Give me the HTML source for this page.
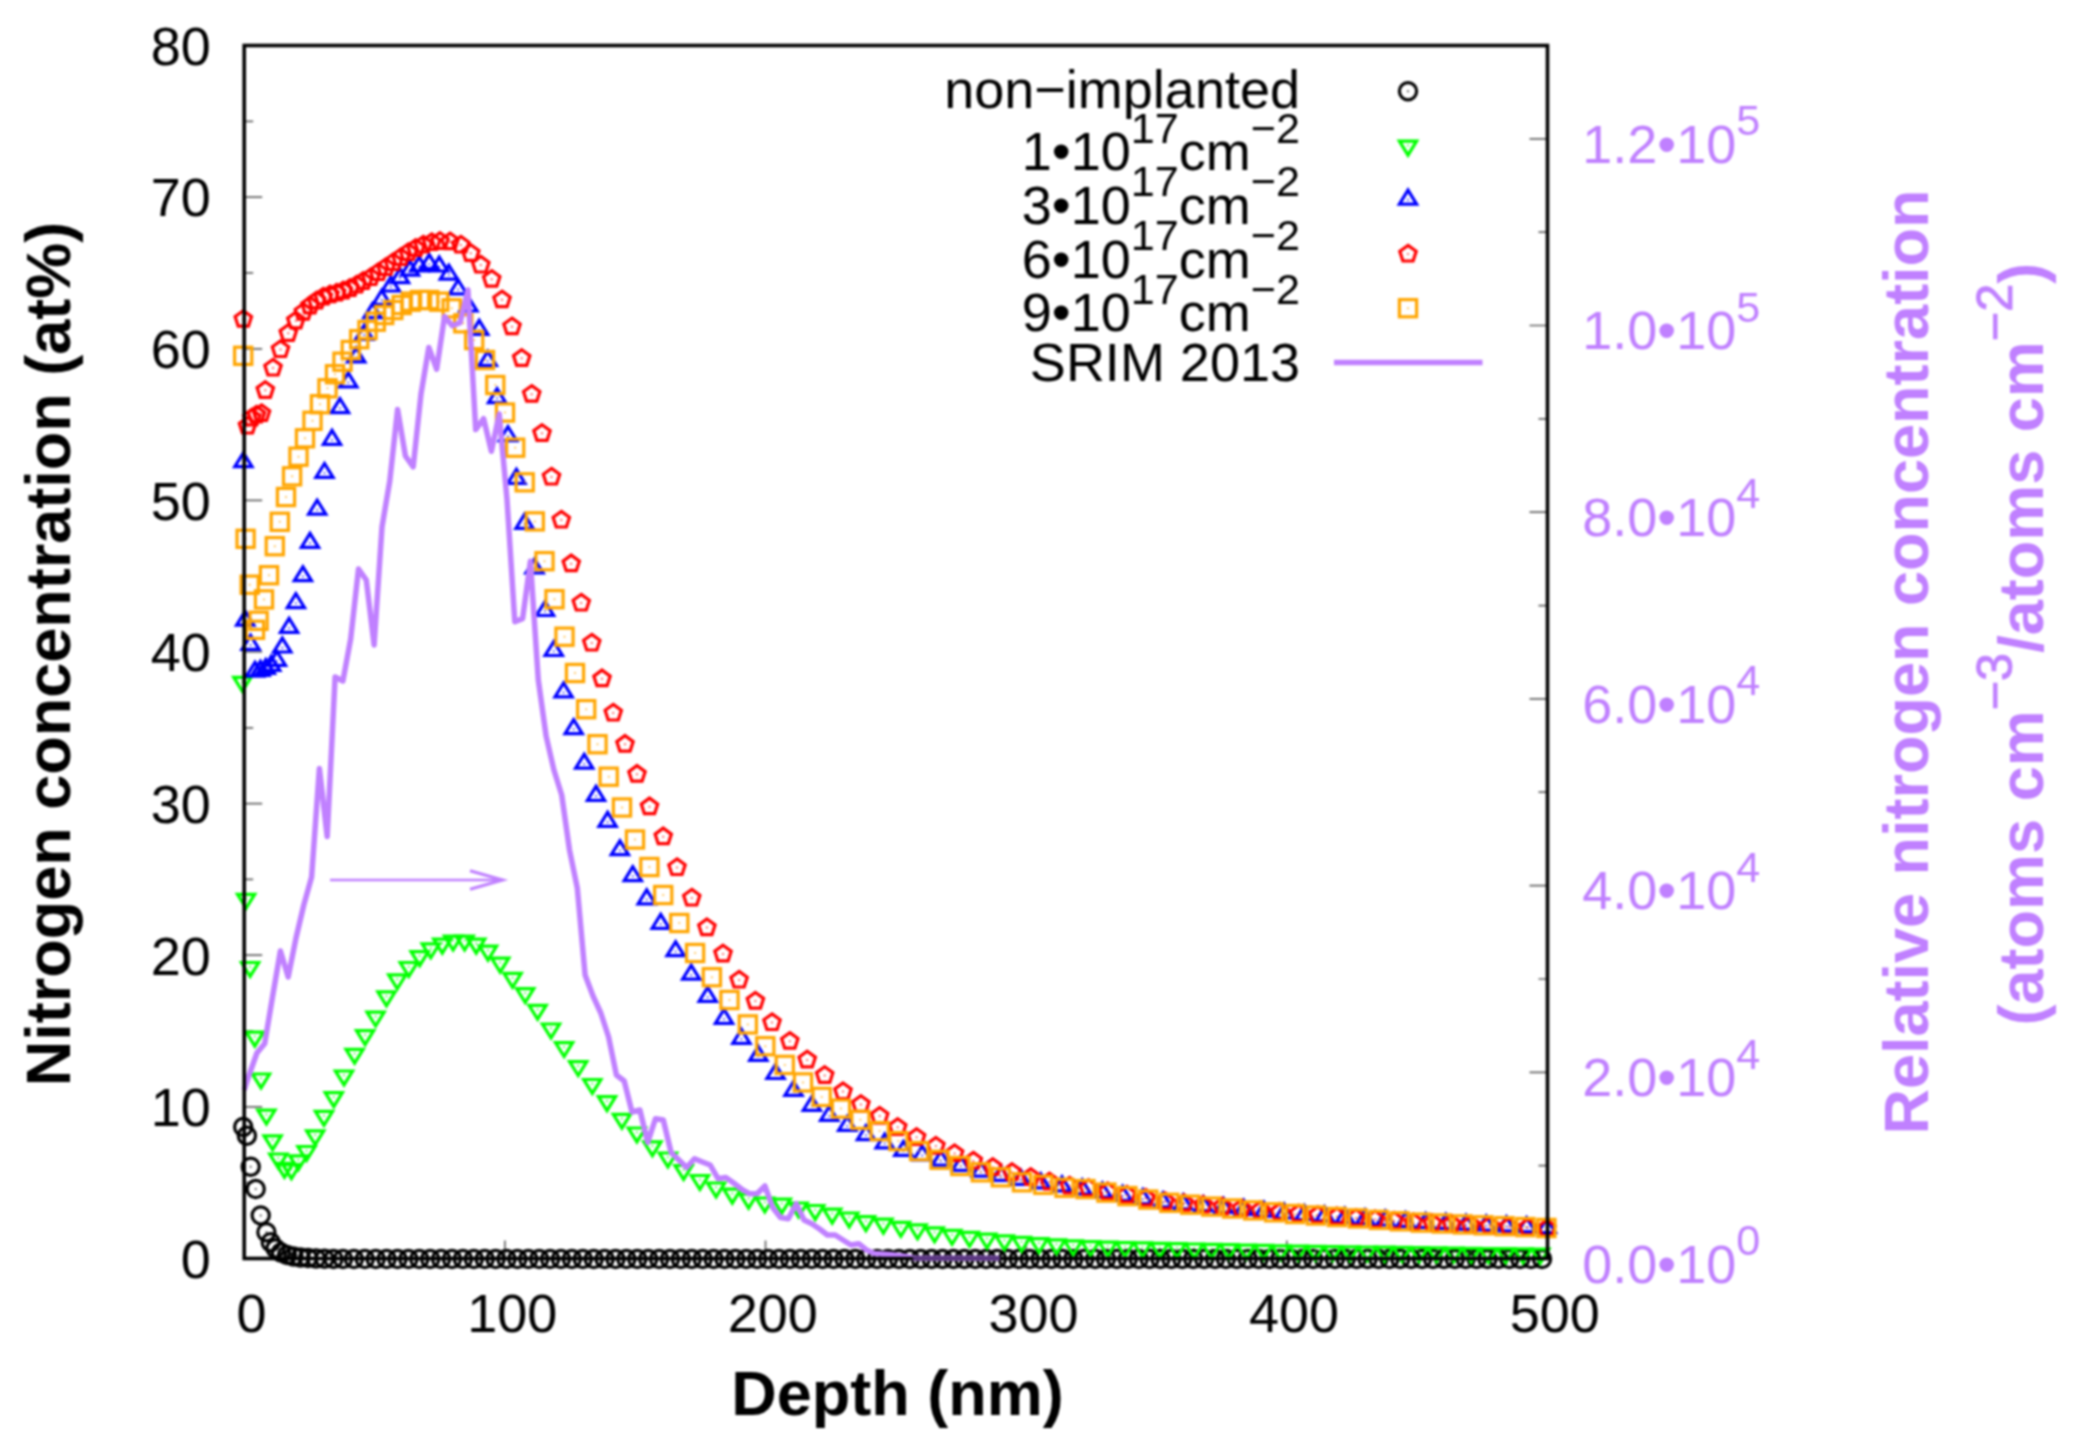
<!DOCTYPE html>
<html lang="en"><head><meta charset="utf-8"><title>Nitrogen concentration depth profile</title>
<style>html,body{margin:0;padding:0;background:#fff}svg{display:block;filter:blur(0.9px)}</style></head>
<body>
<svg width="2082" height="1452" viewBox="0 0 2082 1452" font-family="'Liberation Sans', sans-serif">
<rect width="2082" height="1452" fill="#fff"/>
<path d="M244.2 1258.5h18M244.2 1182.7h9M244.2 1106.9h18M244.2 1031.1h9M244.2 955.2h18M244.2 879.4h9M244.2 803.6h18M244.2 727.8h9M244.2 652h18M244.2 576.2h9M244.2 500.4h18M244.2 424.6h9M244.2 348.8h18M244.2 272.9h9M244.2 197.1h18M244.2 121.3h9M244.2 45.5h18M244.2 1258.5v-18M504.9 1258.5v-18M765.5 1258.5v-18M1026.2 1258.5v-18M1286.8 1258.5v-18M1547.5 1258.5v-18M1547.5 1259h-18M1547.5 1165.7h-9M1547.5 1072.3h-18M1547.5 979h-9M1547.5 885.6h-18M1547.5 792.2h-9M1547.5 698.9h-18M1547.5 605.6h-9M1547.5 512.2h-18M1547.5 418.9h-9M1547.5 325.5h-18M1547.5 232.2h-9M1547.5 138.8h-18M1547.5 45.5h-9" stroke="#666" stroke-width="1.7" fill="none"/>
<g fill="none" stroke="#000" stroke-width="3.2" stroke-linejoin="miter">
<circle cx="243.2" cy="1127" r="8.6"/>
<circle cx="246.9" cy="1135.8" r="8.6"/>
<circle cx="250.7" cy="1166.7" r="8.6"/>
<circle cx="255.7" cy="1189" r="8.6"/>
<circle cx="260.7" cy="1215.4" r="8.6"/>
<circle cx="266.4" cy="1232.3" r="8.6"/>
<circle cx="270.7" cy="1242.3" r="8.6"/>
<circle cx="275.5" cy="1248.5" r="8.6"/>
<circle cx="281" cy="1252.5" r="8.6"/>
<circle cx="287" cy="1255" r="8.6"/>
<circle cx="293.5" cy="1256.5" r="8.6"/>
<circle cx="300.5" cy="1257.5" r="8.6"/>
<circle cx="308" cy="1258" r="8.6"/>
<circle cx="316" cy="1258.5" r="8.6"/>
<circle cx="324.5" cy="1258.8" r="8.6"/>
<circle cx="333.5" cy="1259" r="8.6"/>
<circle cx="343" cy="1259" r="8.6"/>
<circle cx="353.9" cy="1259" r="8.6"/>
<circle cx="364.8" cy="1259" r="8.6"/>
<circle cx="375.7" cy="1259" r="8.6"/>
<circle cx="386.6" cy="1259" r="8.6"/>
<circle cx="397.5" cy="1259" r="8.6"/>
<circle cx="408.4" cy="1259" r="8.6"/>
<circle cx="419.3" cy="1259" r="8.6"/>
<circle cx="430.2" cy="1259" r="8.6"/>
<circle cx="441.1" cy="1259" r="8.6"/>
<circle cx="452" cy="1259" r="8.6"/>
<circle cx="462.9" cy="1259" r="8.6"/>
<circle cx="473.8" cy="1259" r="8.6"/>
<circle cx="484.7" cy="1259" r="8.6"/>
<circle cx="495.6" cy="1259" r="8.6"/>
<circle cx="506.5" cy="1259" r="8.6"/>
<circle cx="517.4" cy="1259" r="8.6"/>
<circle cx="528.3" cy="1259" r="8.6"/>
<circle cx="539.2" cy="1259" r="8.6"/>
<circle cx="550.1" cy="1259" r="8.6"/>
<circle cx="561" cy="1259" r="8.6"/>
<circle cx="571.9" cy="1259" r="8.6"/>
<circle cx="582.8" cy="1259" r="8.6"/>
<circle cx="593.7" cy="1259" r="8.6"/>
<circle cx="604.6" cy="1259" r="8.6"/>
<circle cx="615.5" cy="1259" r="8.6"/>
<circle cx="626.4" cy="1259" r="8.6"/>
<circle cx="637.3" cy="1259" r="8.6"/>
<circle cx="648.2" cy="1259" r="8.6"/>
<circle cx="659.1" cy="1259" r="8.6"/>
<circle cx="670" cy="1259" r="8.6"/>
<circle cx="680.9" cy="1259" r="8.6"/>
<circle cx="691.8" cy="1259" r="8.6"/>
<circle cx="702.7" cy="1259" r="8.6"/>
<circle cx="713.6" cy="1259" r="8.6"/>
<circle cx="724.5" cy="1259" r="8.6"/>
<circle cx="735.4" cy="1259" r="8.6"/>
<circle cx="746.3" cy="1259" r="8.6"/>
<circle cx="757.2" cy="1259" r="8.6"/>
<circle cx="768.1" cy="1259" r="8.6"/>
<circle cx="779" cy="1259" r="8.6"/>
<circle cx="789.9" cy="1259" r="8.6"/>
<circle cx="800.8" cy="1259" r="8.6"/>
<circle cx="811.7" cy="1259" r="8.6"/>
<circle cx="822.6" cy="1259" r="8.6"/>
<circle cx="833.5" cy="1259" r="8.6"/>
<circle cx="844.4" cy="1259" r="8.6"/>
<circle cx="855.3" cy="1259" r="8.6"/>
<circle cx="866.2" cy="1259" r="8.6"/>
<circle cx="877.1" cy="1259" r="8.6"/>
<circle cx="888" cy="1259" r="8.6"/>
<circle cx="898.9" cy="1259" r="8.6"/>
<circle cx="909.8" cy="1259" r="8.6"/>
<circle cx="920.7" cy="1259" r="8.6"/>
<circle cx="931.6" cy="1259" r="8.6"/>
<circle cx="942.5" cy="1259" r="8.6"/>
<circle cx="953.4" cy="1259" r="8.6"/>
<circle cx="964.3" cy="1259" r="8.6"/>
<circle cx="975.2" cy="1259" r="8.6"/>
<circle cx="986.1" cy="1259" r="8.6"/>
<circle cx="997" cy="1259" r="8.6"/>
<circle cx="1007.9" cy="1259" r="8.6"/>
<circle cx="1018.8" cy="1259" r="8.6"/>
<circle cx="1029.7" cy="1259" r="8.6"/>
<circle cx="1040.6" cy="1259" r="8.6"/>
<circle cx="1051.5" cy="1259" r="8.6"/>
<circle cx="1062.4" cy="1259" r="8.6"/>
<circle cx="1073.3" cy="1259" r="8.6"/>
<circle cx="1084.2" cy="1259" r="8.6"/>
<circle cx="1095.1" cy="1259" r="8.6"/>
<circle cx="1106" cy="1259" r="8.6"/>
<circle cx="1116.9" cy="1259" r="8.6"/>
<circle cx="1127.8" cy="1259" r="8.6"/>
<circle cx="1138.7" cy="1259" r="8.6"/>
<circle cx="1149.6" cy="1259" r="8.6"/>
<circle cx="1160.5" cy="1259" r="8.6"/>
<circle cx="1171.4" cy="1259" r="8.6"/>
<circle cx="1182.3" cy="1259" r="8.6"/>
<circle cx="1193.2" cy="1259" r="8.6"/>
<circle cx="1204.1" cy="1259" r="8.6"/>
<circle cx="1215" cy="1259" r="8.6"/>
<circle cx="1225.9" cy="1259" r="8.6"/>
<circle cx="1236.8" cy="1259" r="8.6"/>
<circle cx="1247.7" cy="1259" r="8.6"/>
<circle cx="1258.6" cy="1259" r="8.6"/>
<circle cx="1269.5" cy="1259" r="8.6"/>
<circle cx="1280.4" cy="1259" r="8.6"/>
<circle cx="1291.3" cy="1259" r="8.6"/>
<circle cx="1302.2" cy="1259" r="8.6"/>
<circle cx="1313.1" cy="1259" r="8.6"/>
<circle cx="1324" cy="1259" r="8.6"/>
<circle cx="1334.9" cy="1259" r="8.6"/>
<circle cx="1345.8" cy="1259" r="8.6"/>
<circle cx="1356.7" cy="1259" r="8.6"/>
<circle cx="1367.6" cy="1259" r="8.6"/>
<circle cx="1378.5" cy="1259" r="8.6"/>
<circle cx="1389.4" cy="1259" r="8.6"/>
<circle cx="1400.3" cy="1259" r="8.6"/>
<circle cx="1411.2" cy="1259" r="8.6"/>
<circle cx="1422.1" cy="1259" r="8.6"/>
<circle cx="1433" cy="1259" r="8.6"/>
<circle cx="1443.9" cy="1259" r="8.6"/>
<circle cx="1454.8" cy="1259" r="8.6"/>
<circle cx="1465.7" cy="1259" r="8.6"/>
<circle cx="1476.6" cy="1259" r="8.6"/>
<circle cx="1487.5" cy="1259" r="8.6"/>
<circle cx="1498.4" cy="1259" r="8.6"/>
<circle cx="1509.3" cy="1259" r="8.6"/>
<circle cx="1520.2" cy="1259" r="8.6"/>
<circle cx="1531.1" cy="1259" r="8.6"/>
<circle cx="1542" cy="1259" r="8.6"/>
</g>
<g fill="#000" opacity="0.75"><circle cx="243.2" cy="1127" r="1"/><circle cx="246.9" cy="1135.8" r="1"/><circle cx="250.7" cy="1166.7" r="1"/><circle cx="255.7" cy="1189" r="1"/><circle cx="260.7" cy="1215.4" r="1"/><circle cx="266.4" cy="1232.3" r="1"/><circle cx="270.7" cy="1242.3" r="1"/><circle cx="275.5" cy="1248.5" r="1"/><circle cx="281" cy="1252.5" r="1"/><circle cx="287" cy="1255" r="1"/><circle cx="293.5" cy="1256.5" r="1"/><circle cx="300.5" cy="1257.5" r="1"/><circle cx="308" cy="1258" r="1"/><circle cx="316" cy="1258.5" r="1"/><circle cx="324.5" cy="1258.8" r="1"/><circle cx="333.5" cy="1259" r="1"/><circle cx="343" cy="1259" r="1"/><circle cx="353.9" cy="1259" r="1"/><circle cx="364.8" cy="1259" r="1"/><circle cx="375.7" cy="1259" r="1"/><circle cx="386.6" cy="1259" r="1"/><circle cx="397.5" cy="1259" r="1"/><circle cx="408.4" cy="1259" r="1"/><circle cx="419.3" cy="1259" r="1"/><circle cx="430.2" cy="1259" r="1"/><circle cx="441.1" cy="1259" r="1"/><circle cx="452" cy="1259" r="1"/><circle cx="462.9" cy="1259" r="1"/><circle cx="473.8" cy="1259" r="1"/><circle cx="484.7" cy="1259" r="1"/><circle cx="495.6" cy="1259" r="1"/><circle cx="506.5" cy="1259" r="1"/><circle cx="517.4" cy="1259" r="1"/><circle cx="528.3" cy="1259" r="1"/><circle cx="539.2" cy="1259" r="1"/><circle cx="550.1" cy="1259" r="1"/><circle cx="561" cy="1259" r="1"/><circle cx="571.9" cy="1259" r="1"/><circle cx="582.8" cy="1259" r="1"/><circle cx="593.7" cy="1259" r="1"/><circle cx="604.6" cy="1259" r="1"/><circle cx="615.5" cy="1259" r="1"/><circle cx="626.4" cy="1259" r="1"/><circle cx="637.3" cy="1259" r="1"/><circle cx="648.2" cy="1259" r="1"/><circle cx="659.1" cy="1259" r="1"/><circle cx="670" cy="1259" r="1"/><circle cx="680.9" cy="1259" r="1"/><circle cx="691.8" cy="1259" r="1"/><circle cx="702.7" cy="1259" r="1"/><circle cx="713.6" cy="1259" r="1"/><circle cx="724.5" cy="1259" r="1"/><circle cx="735.4" cy="1259" r="1"/><circle cx="746.3" cy="1259" r="1"/><circle cx="757.2" cy="1259" r="1"/><circle cx="768.1" cy="1259" r="1"/><circle cx="779" cy="1259" r="1"/><circle cx="789.9" cy="1259" r="1"/><circle cx="800.8" cy="1259" r="1"/><circle cx="811.7" cy="1259" r="1"/><circle cx="822.6" cy="1259" r="1"/><circle cx="833.5" cy="1259" r="1"/><circle cx="844.4" cy="1259" r="1"/><circle cx="855.3" cy="1259" r="1"/><circle cx="866.2" cy="1259" r="1"/><circle cx="877.1" cy="1259" r="1"/><circle cx="888" cy="1259" r="1"/><circle cx="898.9" cy="1259" r="1"/><circle cx="909.8" cy="1259" r="1"/><circle cx="920.7" cy="1259" r="1"/><circle cx="931.6" cy="1259" r="1"/><circle cx="942.5" cy="1259" r="1"/><circle cx="953.4" cy="1259" r="1"/><circle cx="964.3" cy="1259" r="1"/><circle cx="975.2" cy="1259" r="1"/><circle cx="986.1" cy="1259" r="1"/><circle cx="997" cy="1259" r="1"/><circle cx="1007.9" cy="1259" r="1"/><circle cx="1018.8" cy="1259" r="1"/><circle cx="1029.7" cy="1259" r="1"/><circle cx="1040.6" cy="1259" r="1"/><circle cx="1051.5" cy="1259" r="1"/><circle cx="1062.4" cy="1259" r="1"/><circle cx="1073.3" cy="1259" r="1"/><circle cx="1084.2" cy="1259" r="1"/><circle cx="1095.1" cy="1259" r="1"/><circle cx="1106" cy="1259" r="1"/><circle cx="1116.9" cy="1259" r="1"/><circle cx="1127.8" cy="1259" r="1"/><circle cx="1138.7" cy="1259" r="1"/><circle cx="1149.6" cy="1259" r="1"/><circle cx="1160.5" cy="1259" r="1"/><circle cx="1171.4" cy="1259" r="1"/><circle cx="1182.3" cy="1259" r="1"/><circle cx="1193.2" cy="1259" r="1"/><circle cx="1204.1" cy="1259" r="1"/><circle cx="1215" cy="1259" r="1"/><circle cx="1225.9" cy="1259" r="1"/><circle cx="1236.8" cy="1259" r="1"/><circle cx="1247.7" cy="1259" r="1"/><circle cx="1258.6" cy="1259" r="1"/><circle cx="1269.5" cy="1259" r="1"/><circle cx="1280.4" cy="1259" r="1"/><circle cx="1291.3" cy="1259" r="1"/><circle cx="1302.2" cy="1259" r="1"/><circle cx="1313.1" cy="1259" r="1"/><circle cx="1324" cy="1259" r="1"/><circle cx="1334.9" cy="1259" r="1"/><circle cx="1345.8" cy="1259" r="1"/><circle cx="1356.7" cy="1259" r="1"/><circle cx="1367.6" cy="1259" r="1"/><circle cx="1378.5" cy="1259" r="1"/><circle cx="1389.4" cy="1259" r="1"/><circle cx="1400.3" cy="1259" r="1"/><circle cx="1411.2" cy="1259" r="1"/><circle cx="1422.1" cy="1259" r="1"/><circle cx="1433" cy="1259" r="1"/><circle cx="1443.9" cy="1259" r="1"/><circle cx="1454.8" cy="1259" r="1"/><circle cx="1465.7" cy="1259" r="1"/><circle cx="1476.6" cy="1259" r="1"/><circle cx="1487.5" cy="1259" r="1"/><circle cx="1498.4" cy="1259" r="1"/><circle cx="1509.3" cy="1259" r="1"/><circle cx="1520.2" cy="1259" r="1"/><circle cx="1531.1" cy="1259" r="1"/><circle cx="1542" cy="1259" r="1"/></g>
<g fill="none" stroke="#00ff00" stroke-width="3.2" stroke-linejoin="miter">
<path d="M242.4 691.3L233.8 677.4H251Z"/>
<path d="M246.1 908.2L237.5 894.3H254.7Z"/>
<path d="M250.1 976.4L241.5 962.5H258.7Z"/>
<path d="M254.8 1046.1L246.2 1032.2H263.4Z"/>
<path d="M261 1087.9L252.4 1074H269.6Z"/>
<path d="M266.4 1124L257.8 1110.1H275Z"/>
<path d="M272.6 1149.7L264 1135.8H281.2Z"/>
<path d="M278.3 1167.9L269.7 1154H286.9Z"/>
<path d="M284.5 1177.3L275.9 1163.4H293.1Z"/>
<path d="M291.4 1178.6L282.8 1164.7H300Z"/>
<path d="M298.3 1169.8L289.7 1155.9H306.9Z"/>
<path d="M306.5 1160.4L297.9 1146.5H315.1Z"/>
<path d="M315.2 1144.7L306.6 1130.8H323.8Z"/>
<path d="M324 1125.3L315.4 1111.4H332.6Z"/>
<path d="M333.8 1106.6L325.2 1092.7H342.4Z"/>
<path d="M344 1084.9L335.4 1071H352.6Z"/>
<path d="M354.6 1063.2L346 1049.3H363.2Z"/>
<path d="M365.1 1044.6L356.5 1030.7H373.7Z"/>
<path d="M375.6 1026L367 1012.1H384.2Z"/>
<path d="M386.5 1005.8L377.9 991.9H395.1Z"/>
<path d="M397.3 988.8L388.7 974.9H405.9Z"/>
<path d="M408.8 976.4L400.2 962.5H417.4Z"/>
<path d="M419.7 965.6L411.1 951.7H428.3Z"/>
<path d="M430.8 957.8L422.2 943.9H439.4Z"/>
<path d="M442.3 953.1L433.7 939.2H450.9Z"/>
<path d="M453.1 950L444.5 936.1H461.7Z"/>
<path d="M464.6 950L456 936.1H473.2Z"/>
<path d="M476.2 953.1L467.6 939.2H484.8Z"/>
<path d="M488 960.1L479.4 946.2H496.6Z"/>
<path d="M500.2 972.1L491.6 958.2H508.8Z"/>
<path d="M512.6 987.3L504 973.4H521.2Z"/>
<path d="M525.2 1002.5L516.6 988.6H533.8Z"/>
<path d="M537.6 1019.2L529 1005.3H546.2Z"/>
<path d="M551 1037.9L542.4 1024H559.6Z"/>
<path d="M564.1 1056.5L555.5 1042.6H572.7Z"/>
<path d="M578.2 1075.5L569.6 1061.6H586.8Z"/>
<path d="M592.3 1093.4L583.7 1079.5H600.9Z"/>
<path d="M607 1110.6L598.4 1096.7H615.6Z"/>
<path d="M621.9 1128.2L613.3 1114.3H630.5Z"/>
<path d="M636.9 1141.9L628.3 1128H645.5Z"/>
<path d="M652.4 1155.7L643.8 1141.8H661Z"/>
<path d="M667.9 1166.9L659.3 1153H676.5Z"/>
<path d="M683.6 1179.4L675 1165.5H692.2Z"/>
<path d="M699.9 1189.4L691.3 1175.5H708.5Z"/>
<path d="M716.1 1196.9L707.5 1183H724.7Z"/>
<path d="M732.3 1203.1L723.7 1189.2H740.9Z"/>
<path d="M748.6 1208.1L740 1194.2H757.2Z"/>
<path d="M764.8 1211.9L756.2 1198H773.4Z"/>
<path d="M781.8 1213.1L773.2 1199.2H790.4Z"/>
<path d="M798.5 1216.9L789.9 1203H807.1Z"/>
<path d="M815.2 1219.4L806.6 1205.5H823.8Z"/>
<path d="M832.2 1223.1L823.6 1209.2H840.8Z"/>
<path d="M849.2 1226.9L840.6 1213H857.8Z"/>
<path d="M865.9 1230.6L857.3 1216.7H874.5Z"/>
<path d="M883.4 1233.1L874.8 1219.2H892Z"/>
<path d="M900.9 1236.3L892.3 1222.4H909.5Z"/>
<path d="M917.6 1238.8L909 1224.9H926.2Z"/>
<path d="M934.6 1241.8L926 1227.9H943.2Z"/>
<path d="M952.1 1244.3L943.5 1230.4H960.7Z"/>
<path d="M969.6 1246.3L961 1232.4H978.2Z"/>
<path d="M987 1248.1L978.4 1234.2H995.6Z"/>
<path d="M1004.5 1249.8L995.9 1235.9H1013.1Z"/>
<path d="M1021.5 1251.3L1012.9 1237.4H1030.1Z"/>
<path d="M1039 1252.6L1030.4 1238.7H1047.6Z"/>
<path d="M1056.5 1253.8L1047.9 1239.9H1065.1Z"/>
<path d="M1073.2 1254.8L1064.6 1240.9H1081.8Z"/>
<path d="M1090.5 1255.5L1081.9 1241.6H1099.1Z"/>
<path d="M1107.8 1256.1L1099.2 1242.2H1116.4Z"/>
<path d="M1125.1 1256.5L1116.5 1242.6H1133.7Z"/>
<path d="M1142.4 1256.9L1133.8 1242.9H1151Z"/>
<path d="M1159.7 1257.2L1151.1 1243.3H1168.3Z"/>
<path d="M1177 1257.6L1168.4 1243.7H1185.6Z"/>
<path d="M1194.3 1257.9L1185.7 1244H1202.9Z"/>
<path d="M1211.6 1258.3L1203 1244.4H1220.2Z"/>
<path d="M1228.9 1258.7L1220.3 1244.7H1237.5Z"/>
<path d="M1246.2 1259L1237.6 1245.1H1254.8Z"/>
<path d="M1263.5 1259.4L1254.9 1245.4H1272.1Z"/>
<path d="M1280.8 1259.7L1272.2 1245.8H1289.4Z"/>
<path d="M1298.1 1260.1L1289.5 1246.2H1306.7Z"/>
<path d="M1315.4 1260.3L1306.8 1246.4H1324Z"/>
<path d="M1332.7 1260.5L1324.1 1246.6H1341.3Z"/>
<path d="M1350 1260.7L1341.4 1246.8H1358.6Z"/>
<path d="M1367.3 1260.9L1358.7 1247H1375.9Z"/>
<path d="M1384.6 1261.2L1376 1247.2H1393.2Z"/>
<path d="M1401.9 1261.4L1393.3 1247.4H1410.5Z"/>
<path d="M1419.2 1261.6L1410.6 1247.6H1427.8Z"/>
<path d="M1436.5 1261.8L1427.9 1247.9H1445.1Z"/>
<path d="M1453.8 1262L1445.2 1248.1H1462.4Z"/>
<path d="M1471.1 1262.2L1462.5 1248.3H1479.7Z"/>
<path d="M1488.4 1262.4L1479.8 1248.5H1497Z"/>
<path d="M1505.7 1262.6L1497.1 1248.7H1514.3Z"/>
<path d="M1523 1262.8L1514.4 1248.9H1531.6Z"/>
<path d="M1540.3 1263.1L1531.7 1249.1H1548.9Z"/>
</g>
<g fill="#00ff00" opacity="0.75"><circle cx="242.4" cy="681.7" r="1"/><circle cx="246.1" cy="898.6" r="1"/><circle cx="250.1" cy="966.8" r="1"/><circle cx="254.8" cy="1036.5" r="1"/><circle cx="261" cy="1078.3" r="1"/><circle cx="266.4" cy="1114.4" r="1"/><circle cx="272.6" cy="1140.1" r="1"/><circle cx="278.3" cy="1158.3" r="1"/><circle cx="284.5" cy="1167.7" r="1"/><circle cx="291.4" cy="1169" r="1"/><circle cx="298.3" cy="1160.2" r="1"/><circle cx="306.5" cy="1150.8" r="1"/><circle cx="315.2" cy="1135.1" r="1"/><circle cx="324" cy="1115.7" r="1"/><circle cx="333.8" cy="1097" r="1"/><circle cx="344" cy="1075.3" r="1"/><circle cx="354.6" cy="1053.6" r="1"/><circle cx="365.1" cy="1035" r="1"/><circle cx="375.6" cy="1016.4" r="1"/><circle cx="386.5" cy="996.2" r="1"/><circle cx="397.3" cy="979.2" r="1"/><circle cx="408.8" cy="966.8" r="1"/><circle cx="419.7" cy="956" r="1"/><circle cx="430.8" cy="948.2" r="1"/><circle cx="442.3" cy="943.5" r="1"/><circle cx="453.1" cy="940.4" r="1"/><circle cx="464.6" cy="940.4" r="1"/><circle cx="476.2" cy="943.5" r="1"/><circle cx="488" cy="950.5" r="1"/><circle cx="500.2" cy="962.5" r="1"/><circle cx="512.6" cy="977.7" r="1"/><circle cx="525.2" cy="992.9" r="1"/><circle cx="537.6" cy="1009.6" r="1"/><circle cx="551" cy="1028.3" r="1"/><circle cx="564.1" cy="1046.9" r="1"/><circle cx="578.2" cy="1065.9" r="1"/><circle cx="592.3" cy="1083.8" r="1"/><circle cx="607" cy="1101" r="1"/><circle cx="621.9" cy="1118.6" r="1"/><circle cx="636.9" cy="1132.3" r="1"/><circle cx="652.4" cy="1146.1" r="1"/><circle cx="667.9" cy="1157.3" r="1"/><circle cx="683.6" cy="1169.8" r="1"/><circle cx="699.9" cy="1179.8" r="1"/><circle cx="716.1" cy="1187.3" r="1"/><circle cx="732.3" cy="1193.5" r="1"/><circle cx="748.6" cy="1198.5" r="1"/><circle cx="764.8" cy="1202.3" r="1"/><circle cx="781.8" cy="1203.5" r="1"/><circle cx="798.5" cy="1207.3" r="1"/><circle cx="815.2" cy="1209.8" r="1"/><circle cx="832.2" cy="1213.5" r="1"/><circle cx="849.2" cy="1217.3" r="1"/><circle cx="865.9" cy="1221" r="1"/><circle cx="883.4" cy="1223.5" r="1"/><circle cx="900.9" cy="1226.7" r="1"/><circle cx="917.6" cy="1229.2" r="1"/><circle cx="934.6" cy="1232.2" r="1"/><circle cx="952.1" cy="1234.7" r="1"/><circle cx="969.6" cy="1236.7" r="1"/><circle cx="987" cy="1238.5" r="1"/><circle cx="1004.5" cy="1240.2" r="1"/><circle cx="1021.5" cy="1241.7" r="1"/><circle cx="1039" cy="1243" r="1"/><circle cx="1056.5" cy="1244.2" r="1"/><circle cx="1073.2" cy="1245.2" r="1"/><circle cx="1090.5" cy="1245.9" r="1"/><circle cx="1107.8" cy="1246.5" r="1"/><circle cx="1125.1" cy="1246.9" r="1"/><circle cx="1142.4" cy="1247.2" r="1"/><circle cx="1159.7" cy="1247.6" r="1"/><circle cx="1177" cy="1248" r="1"/><circle cx="1194.3" cy="1248.3" r="1"/><circle cx="1211.6" cy="1248.7" r="1"/><circle cx="1228.9" cy="1249" r="1"/><circle cx="1246.2" cy="1249.4" r="1"/><circle cx="1263.5" cy="1249.7" r="1"/><circle cx="1280.8" cy="1250.1" r="1"/><circle cx="1298.1" cy="1250.5" r="1"/><circle cx="1315.4" cy="1250.7" r="1"/><circle cx="1332.7" cy="1250.9" r="1"/><circle cx="1350" cy="1251.1" r="1"/><circle cx="1367.3" cy="1251.3" r="1"/><circle cx="1384.6" cy="1251.5" r="1"/><circle cx="1401.9" cy="1251.7" r="1"/><circle cx="1419.2" cy="1251.9" r="1"/><circle cx="1436.5" cy="1252.2" r="1"/><circle cx="1453.8" cy="1252.4" r="1"/><circle cx="1471.1" cy="1252.6" r="1"/><circle cx="1488.4" cy="1252.8" r="1"/><circle cx="1505.7" cy="1253" r="1"/><circle cx="1523" cy="1253.2" r="1"/><circle cx="1540.3" cy="1253.4" r="1"/></g>
<g fill="none" stroke="#0000ff" stroke-width="3.2" stroke-linejoin="miter">
<path d="M243.4 452.8L234.8 466.7H252Z"/>
<path d="M245.2 611.2L236.6 625.1H253.8Z"/>
<path d="M250.6 635.4L242 649.3H259.2Z"/>
<path d="M255 662.3L246.4 676.2H263.6Z"/>
<path d="M260.4 661.4L251.8 675.3H269Z"/>
<path d="M265.8 659.6L257.2 673.5H274.4Z"/>
<path d="M271.2 656.4L262.6 670.3H279.8Z"/>
<path d="M276.9 651.5L268.3 665.4H285.5Z"/>
<path d="M282.3 638.1L273.7 652H290.9Z"/>
<path d="M289.1 618.4L280.5 632.3H297.7Z"/>
<path d="M295.9 593.7L287.3 607.6H304.5Z"/>
<path d="M302.9 566.8L294.3 580.7H311.5Z"/>
<path d="M310 533.4L301.4 547.3H318.6Z"/>
<path d="M317.2 500.2L308.6 514.1H325.8Z"/>
<path d="M324.5 463.5L315.9 477.4H333.1Z"/>
<path d="M332 430.4L323.4 444.3H340.6Z"/>
<path d="M340 398.7L331.4 412.6H348.6Z"/>
<path d="M348.3 372.9L339.7 386.8H356.9Z"/>
<path d="M356.2 347.9L347.6 361.8H364.8Z"/>
<path d="M364.2 325.4L355.6 339.3H372.8Z"/>
<path d="M372.5 303.7L363.9 317.6H381.1Z"/>
<path d="M381.7 290.4L373.1 304.3H390.3Z"/>
<path d="M390.8 277.1L382.2 291H399.4Z"/>
<path d="M400 268.7L391.4 282.6H408.6Z"/>
<path d="M410 261.2L401.4 275.1H418.6Z"/>
<path d="M419.2 257.1L410.6 271H427.8Z"/>
<path d="M429.2 254.6L420.6 268.5H437.8Z"/>
<path d="M439.2 257.1L430.6 271H447.8Z"/>
<path d="M448.9 265.2L440.3 279.1H457.5Z"/>
<path d="M458.1 280L449.5 293.9H466.7Z"/>
<path d="M468.4 297.1L459.8 311H477Z"/>
<path d="M479.2 320.4L470.6 334.3H487.8Z"/>
<path d="M487.7 351.4L479.1 365.3H496.3Z"/>
<path d="M497.1 388.7L488.5 402.6H505.7Z"/>
<path d="M508 426.7L499.4 440.6H516.6Z"/>
<path d="M516.4 469.4L507.8 483.3H525Z"/>
<path d="M524.5 514.4L515.9 528.3H533.1Z"/>
<path d="M534.5 559.1L525.9 573H543.1Z"/>
<path d="M545 601.6L536.4 615.5H553.6Z"/>
<path d="M553.8 641.6L545.1 655.5H562.4Z"/>
<path d="M563.6 683L555 696.9H572.2Z"/>
<path d="M573.7 719.7L565.1 733.6H582.3Z"/>
<path d="M584.2 754.3L575.6 768.2H592.8Z"/>
<path d="M596 786.4L587.4 800.3H604.6Z"/>
<path d="M607.6 812.4L599 826.3H616.2Z"/>
<path d="M619.9 840.8L611.3 854.7H628.5Z"/>
<path d="M632.8 866.7L624.2 880.6H641.4Z"/>
<path d="M646.7 889.9L638.1 903.8H655.3Z"/>
<path d="M660.7 914.4L652.1 928.3H669.3Z"/>
<path d="M675.6 941.8L667 955.7H684.2Z"/>
<path d="M691.2 965.3L682.6 979.2H699.8Z"/>
<path d="M707.7 987.4L699.1 1001.3H716.3Z"/>
<path d="M724 1009.4L715.4 1023.3H732.6Z"/>
<path d="M741.4 1029.4L732.8 1043.3H750Z"/>
<path d="M758.3 1046.4L749.7 1060.3H766.9Z"/>
<path d="M775.5 1064.6L766.9 1078.5H784.1Z"/>
<path d="M793.5 1081.5L784.9 1095.4H802.1Z"/>
<path d="M811.8 1096.5L803.2 1110.4H820.4Z"/>
<path d="M829.2 1106.5L820.6 1120.4H837.8Z"/>
<path d="M847.2 1116.5L838.6 1130.4H855.8Z"/>
<path d="M866 1125.7L857.4 1139.6H874.6Z"/>
<path d="M884.7 1134L876.1 1147.9H893.3Z"/>
<path d="M903.4 1141.5L894.8 1155.4H912Z"/>
<path d="M922.2 1146L913.6 1159.9H930.8Z"/>
<path d="M940.9 1151.2L932.3 1165.1H949.5Z"/>
<path d="M960.9 1156.4L952.3 1170.3H969.5Z"/>
<path d="M980.8 1162.2L972.2 1176.1H989.4Z"/>
<path d="M1000.8 1166.4L992.2 1180.3H1009.4Z"/>
<path d="M1020.8 1170.4L1012.2 1184.3H1029.4Z"/>
<path d="M1040.8 1173.9L1032.2 1187.8H1049.4Z"/>
<path d="M1062 1176.9L1053.4 1190.8H1070.6Z"/>
<path d="M1082.2 1179.9L1073.6 1193.8H1090.8Z"/>
<path d="M1102.4 1183.1L1093.8 1197H1111Z"/>
<path d="M1122.6 1186.3L1114 1200.3H1131.2Z"/>
<path d="M1142.8 1189.6L1134.2 1203.5H1151.4Z"/>
<path d="M1163 1192.8L1154.4 1206.8H1171.6Z"/>
<path d="M1183.2 1194.8L1174.6 1208.8H1191.8Z"/>
<path d="M1203.4 1196.7L1194.8 1210.6H1212Z"/>
<path d="M1223.6 1198.5L1215 1212.4H1232.2Z"/>
<path d="M1243.8 1200.4L1235.2 1214.3H1252.4Z"/>
<path d="M1264 1202.2L1255.4 1216.1H1272.6Z"/>
<path d="M1284.2 1204L1275.6 1218H1292.8Z"/>
<path d="M1304.4 1205.6L1295.8 1219.5H1313Z"/>
<path d="M1324.6 1206.9L1316 1220.9H1333.2Z"/>
<path d="M1344.8 1208.3L1336.2 1222.3H1353.4Z"/>
<path d="M1365 1209.7L1356.4 1223.7H1373.6Z"/>
<path d="M1385.2 1211.1L1376.6 1225H1393.8Z"/>
<path d="M1405.4 1212.5L1396.8 1226.4H1414Z"/>
<path d="M1425.6 1213.6L1417 1227.5H1434.2Z"/>
<path d="M1445.8 1214.4L1437.2 1228.4H1454.4Z"/>
<path d="M1466 1215.3L1457.4 1229.2H1474.6Z"/>
<path d="M1486.2 1216.1L1477.6 1230H1494.8Z"/>
<path d="M1506.4 1216.9L1497.8 1230.8H1515Z"/>
<path d="M1526.6 1217.7L1518 1231.7H1535.2Z"/>
<path d="M1546.8 1218.6L1538.2 1232.5H1555.4Z"/>
</g>
<g fill="#0000ff" opacity="0.75"><circle cx="243.4" cy="462.4" r="1"/><circle cx="245.2" cy="620.8" r="1"/><circle cx="250.6" cy="645" r="1"/><circle cx="255" cy="671.9" r="1"/><circle cx="260.4" cy="671" r="1"/><circle cx="265.8" cy="669.2" r="1"/><circle cx="271.2" cy="666" r="1"/><circle cx="276.9" cy="661.1" r="1"/><circle cx="282.3" cy="647.7" r="1"/><circle cx="289.1" cy="628" r="1"/><circle cx="295.9" cy="603.3" r="1"/><circle cx="302.9" cy="576.4" r="1"/><circle cx="310" cy="543" r="1"/><circle cx="317.2" cy="509.8" r="1"/><circle cx="324.5" cy="473.1" r="1"/><circle cx="332" cy="440" r="1"/><circle cx="340" cy="408.3" r="1"/><circle cx="348.3" cy="382.5" r="1"/><circle cx="356.2" cy="357.5" r="1"/><circle cx="364.2" cy="335" r="1"/><circle cx="372.5" cy="313.3" r="1"/><circle cx="381.7" cy="300" r="1"/><circle cx="390.8" cy="286.7" r="1"/><circle cx="400" cy="278.3" r="1"/><circle cx="410" cy="270.8" r="1"/><circle cx="419.2" cy="266.7" r="1"/><circle cx="429.2" cy="264.2" r="1"/><circle cx="439.2" cy="266.7" r="1"/><circle cx="448.9" cy="274.8" r="1"/><circle cx="458.1" cy="289.6" r="1"/><circle cx="468.4" cy="306.7" r="1"/><circle cx="479.2" cy="330" r="1"/><circle cx="487.7" cy="361" r="1"/><circle cx="497.1" cy="398.3" r="1"/><circle cx="508" cy="436.3" r="1"/><circle cx="516.4" cy="479" r="1"/><circle cx="524.5" cy="524" r="1"/><circle cx="534.5" cy="568.8" r="1"/><circle cx="545" cy="611.2" r="1"/><circle cx="553.8" cy="651.2" r="1"/><circle cx="563.6" cy="692.6" r="1"/><circle cx="573.7" cy="729.3" r="1"/><circle cx="584.2" cy="763.9" r="1"/><circle cx="596" cy="796" r="1"/><circle cx="607.6" cy="822" r="1"/><circle cx="619.9" cy="850.4" r="1"/><circle cx="632.8" cy="876.3" r="1"/><circle cx="646.7" cy="899.5" r="1"/><circle cx="660.7" cy="924" r="1"/><circle cx="675.6" cy="951.4" r="1"/><circle cx="691.2" cy="974.9" r="1"/><circle cx="707.7" cy="997" r="1"/><circle cx="724" cy="1019" r="1"/><circle cx="741.4" cy="1039" r="1"/><circle cx="758.3" cy="1056" r="1"/><circle cx="775.5" cy="1074.2" r="1"/><circle cx="793.5" cy="1091.1" r="1"/><circle cx="811.8" cy="1106.1" r="1"/><circle cx="829.2" cy="1116.1" r="1"/><circle cx="847.2" cy="1126.1" r="1"/><circle cx="866" cy="1135.3" r="1"/><circle cx="884.7" cy="1143.6" r="1"/><circle cx="903.4" cy="1151.1" r="1"/><circle cx="922.2" cy="1155.6" r="1"/><circle cx="940.9" cy="1160.8" r="1"/><circle cx="960.9" cy="1166" r="1"/><circle cx="980.8" cy="1171.8" r="1"/><circle cx="1000.8" cy="1176" r="1"/><circle cx="1020.8" cy="1180" r="1"/><circle cx="1040.8" cy="1183.5" r="1"/><circle cx="1062" cy="1186.5" r="1"/><circle cx="1082.2" cy="1189.5" r="1"/><circle cx="1102.4" cy="1192.7" r="1"/><circle cx="1122.6" cy="1196" r="1"/><circle cx="1142.8" cy="1199.2" r="1"/><circle cx="1163" cy="1202.5" r="1"/><circle cx="1183.2" cy="1204.5" r="1"/><circle cx="1203.4" cy="1206.3" r="1"/><circle cx="1223.6" cy="1208.1" r="1"/><circle cx="1243.8" cy="1210" r="1"/><circle cx="1264" cy="1211.8" r="1"/><circle cx="1284.2" cy="1213.7" r="1"/><circle cx="1304.4" cy="1215.2" r="1"/><circle cx="1324.6" cy="1216.6" r="1"/><circle cx="1344.8" cy="1218" r="1"/><circle cx="1365" cy="1219.4" r="1"/><circle cx="1385.2" cy="1220.7" r="1"/><circle cx="1405.4" cy="1222.1" r="1"/><circle cx="1425.6" cy="1223.2" r="1"/><circle cx="1445.8" cy="1224.1" r="1"/><circle cx="1466" cy="1224.9" r="1"/><circle cx="1486.2" cy="1225.7" r="1"/><circle cx="1506.4" cy="1226.5" r="1"/><circle cx="1526.6" cy="1227.4" r="1"/><circle cx="1546.8" cy="1228.2" r="1"/></g>
<g fill="none" stroke="#ff0000" stroke-width="3.2" stroke-linejoin="miter">
<path d="M243.3 310.6L251.5 316.5L248.4 326.2L238.2 326.2L235.1 316.5Z"/>
<path d="M247.5 417.4L255.7 423.3L252.6 433L242.4 433L239.3 423.3Z"/>
<path d="M251.7 409.4L259.9 415.3L256.8 425L246.6 425L243.5 415.3Z"/>
<path d="M256.5 406.4L264.7 412.3L261.6 422L251.4 422L248.3 412.3Z"/>
<path d="M261.5 404.9L269.7 410.8L266.6 420.5L256.4 420.5L253.3 410.8Z"/>
<path d="M265.3 381.7L273.5 387.6L270.4 397.3L260.2 397.3L257.1 387.6Z"/>
<path d="M273 359.4L281.2 365.3L278.1 375L267.9 375L264.8 365.3Z"/>
<path d="M280.5 340.9L288.7 346.8L285.6 356.5L275.4 356.5L272.3 346.8Z"/>
<path d="M288.3 324.7L296.5 330.6L293.4 340.3L283.2 340.3L280.1 330.6Z"/>
<path d="M295.8 312.2L304 318.1L300.9 327.8L290.7 327.8L287.6 318.1Z"/>
<path d="M303.3 303.6L311.5 309.5L308.4 319.2L298.2 319.2L295.1 309.5Z"/>
<path d="M310 297.2L318.2 303.1L315.1 312.8L304.9 312.8L301.8 303.1Z"/>
<path d="M316.7 292.2L324.9 298.1L321.8 307.8L311.6 307.8L308.5 298.1Z"/>
<path d="M323.3 288.4L331.5 294.3L328.4 304L318.2 304L315.1 294.3Z"/>
<path d="M330 286.1L338.2 292L335.1 301.7L324.9 301.7L321.8 292Z"/>
<path d="M336.7 284.4L344.9 290.3L341.8 300L331.6 300L328.5 290.3Z"/>
<path d="M343.3 282.2L351.5 288.1L348.4 297.8L338.2 297.8L335.1 288.1Z"/>
<path d="M350 279.7L358.2 285.6L355.1 295.3L344.9 295.3L341.8 285.6Z"/>
<path d="M356.7 276.4L364.9 282.3L361.8 292L351.6 292L348.5 282.3Z"/>
<path d="M363.3 272.7L371.5 278.6L368.4 288.3L358.2 288.3L355.1 278.6Z"/>
<path d="M370.8 268.9L379 274.8L375.9 284.5L365.7 284.5L362.6 274.8Z"/>
<path d="M378.3 263.9L386.5 269.8L383.4 279.5L373.2 279.5L370.1 269.8Z"/>
<path d="M385.8 258.9L394 264.8L390.9 274.5L380.7 274.5L377.6 264.8Z"/>
<path d="M393.3 253.9L401.5 259.8L398.4 269.5L388.2 269.5L385.1 259.8Z"/>
<path d="M400.8 248.9L409 254.8L405.9 264.5L395.7 264.5L392.6 254.8Z"/>
<path d="M408.3 243.9L416.5 249.8L413.4 259.5L403.2 259.5L400.1 249.8Z"/>
<path d="M415.8 239.7L424 245.6L420.9 255.3L410.7 255.3L407.6 245.6Z"/>
<path d="M423.3 236.4L431.5 242.3L428.4 252L418.2 252L415.1 242.3Z"/>
<path d="M431.7 233.9L439.9 239.8L436.8 249.5L426.6 249.5L423.5 239.8Z"/>
<path d="M440 232.7L448.2 238.6L445.1 248.3L434.9 248.3L431.8 238.6Z"/>
<path d="M450 233.1L458.2 239L455.1 248.7L444.9 248.7L441.8 239Z"/>
<path d="M460.8 236.4L469 242.3L465.9 252L455.7 252L452.6 242.3Z"/>
<path d="M470.8 244.7L479 250.6L475.9 260.3L465.7 260.3L462.6 250.6Z"/>
<path d="M480.8 256.4L489 262.3L485.9 272L475.7 272L472.6 262.3Z"/>
<path d="M491.7 270.6L499.9 276.5L496.8 286.2L486.6 286.2L483.5 276.5Z"/>
<path d="M502 291.1L510.2 297L507.1 306.7L496.9 306.7L493.8 297Z"/>
<path d="M512 318.1L520.2 324L517.1 333.7L506.9 333.7L503.8 324Z"/>
<path d="M521.7 349.7L529.9 355.6L526.8 365.3L516.6 365.3L513.5 355.6Z"/>
<path d="M531.7 385.6L539.9 391.5L536.8 401.2L526.6 401.2L523.5 391.5Z"/>
<path d="M542 424.7L550.2 430.6L547.1 440.3L536.9 440.3L533.8 430.6Z"/>
<path d="M551.5 468.4L559.7 474.3L556.6 484L546.4 484L543.3 474.3Z"/>
<path d="M561.3 511.4L569.5 517.3L566.4 527L556.2 527L553.1 517.3Z"/>
<path d="M571.2 555.1L579.4 561.1L576.3 570.7L566.2 570.7L563.1 561.1Z"/>
<path d="M581.2 594.4L589.4 600.3L586.3 610L576.2 610L573.1 600.3Z"/>
<path d="M591.8 634.4L599.9 640.3L596.8 650L586.7 650L583.6 640.3Z"/>
<path d="M602 670.1L610.2 676.1L607.1 685.7L596.9 685.7L593.8 676.1Z"/>
<path d="M613.2 704.4L621.4 710.3L618.3 720L608.2 720L605.1 710.3Z"/>
<path d="M625 735.6L633.2 741.6L630.1 751.2L619.9 751.2L616.8 741.6Z"/>
<path d="M637 765.6L645.2 771.6L642.1 781.2L631.9 781.2L628.8 771.6Z"/>
<path d="M649.5 798.1L657.7 804.1L654.6 813.7L644.4 813.7L641.3 804.1Z"/>
<path d="M663.2 828.1L671.4 834.1L668.3 843.7L658.2 843.7L655.1 834.1Z"/>
<path d="M677 858.9L685.2 864.8L682.1 874.5L671.9 874.5L668.8 864.8Z"/>
<path d="M691.8 889.4L699.9 895.3L696.8 905L686.7 905L683.6 895.3Z"/>
<path d="M706.9 919L715.1 924.9L712 934.6L701.8 934.6L698.7 924.9Z"/>
<path d="M723 945.3L731.2 951.2L728.1 960.9L717.9 960.9L714.8 951.2Z"/>
<path d="M739.1 971.4L747.3 977.3L744.2 987L734 987L730.9 977.3Z"/>
<path d="M755.4 992.5L763.6 998.4L760.5 1008.1L750.3 1008.1L747.2 998.4Z"/>
<path d="M772 1013.9L780.2 1019.8L777.1 1029.5L766.9 1029.5L763.8 1019.8Z"/>
<path d="M789.8 1032.6L798 1038.5L794.9 1048.2L784.7 1048.2L781.6 1038.5Z"/>
<path d="M807.2 1051.3L815.4 1057.2L812.3 1066.9L802.1 1066.9L799 1057.2Z"/>
<path d="M824.7 1066.8L832.9 1072.7L829.8 1082.4L819.6 1082.4L816.5 1072.7Z"/>
<path d="M843 1083L851.2 1088.9L848.1 1098.6L837.9 1098.6L834.8 1088.9Z"/>
<path d="M860.9 1095.8L869.1 1101.7L866 1111.4L855.8 1111.4L852.7 1101.7Z"/>
<path d="M879.7 1107.5L887.9 1113.4L884.8 1123.1L874.6 1123.1L871.5 1113.4Z"/>
<path d="M897.7 1118.7L905.9 1124.6L902.8 1134.3L892.6 1134.3L889.5 1124.6Z"/>
<path d="M916.6 1128.7L924.8 1134.6L921.7 1144.3L911.5 1144.3L908.4 1134.6Z"/>
<path d="M935.9 1137.5L944.1 1143.4L941 1153.1L930.8 1153.1L927.7 1143.4Z"/>
<path d="M954.6 1145L962.8 1150.9L959.7 1160.6L949.5 1160.6L946.4 1150.9Z"/>
<path d="M973.3 1152.4L981.5 1158.3L978.4 1168L968.2 1168L965.1 1158.3Z"/>
<path d="M992.8 1158.7L1001 1164.6L997.9 1174.3L987.7 1174.3L984.6 1164.6Z"/>
<path d="M1012 1163.7L1020.2 1169.6L1017.1 1179.3L1006.9 1179.3L1003.8 1169.6Z"/>
<path d="M1030.8 1168.7L1039 1174.6L1035.9 1184.3L1025.7 1184.3L1022.6 1174.6Z"/>
<path d="M1049.5 1173.2L1057.7 1179.1L1054.6 1188.8L1044.4 1188.8L1041.3 1179.1Z"/>
<path d="M1069.5 1177.4L1077.7 1183.3L1074.6 1193L1064.4 1193L1061.3 1183.3Z"/>
<path d="M1088.6 1179.8L1096.8 1185.8L1093.7 1195.4L1083.5 1195.4L1080.4 1185.8Z"/>
<path d="M1107.7 1183.1L1115.9 1189.1L1112.8 1198.7L1102.6 1198.7L1099.5 1189.1Z"/>
<path d="M1126.8 1186.4L1135 1192.3L1131.9 1201.9L1121.7 1201.9L1118.6 1192.3Z"/>
<path d="M1145.9 1189.6L1154.1 1195.6L1151 1205.2L1140.8 1205.2L1137.7 1195.6Z"/>
<path d="M1165 1192.9L1173.2 1198.8L1170.1 1208.5L1159.9 1208.5L1156.8 1198.8Z"/>
<path d="M1184.1 1194.7L1192.3 1200.6L1189.2 1210.2L1179 1210.2L1175.9 1200.6Z"/>
<path d="M1203.2 1196.5L1211.4 1202.4L1208.3 1212L1198.1 1212L1195 1202.4Z"/>
<path d="M1222.3 1198.3L1230.5 1204.2L1227.4 1213.8L1217.2 1213.8L1214.1 1204.2Z"/>
<path d="M1241.4 1200.1L1249.6 1206L1246.5 1215.6L1236.3 1215.6L1233.2 1206Z"/>
<path d="M1260.5 1201.8L1268.7 1207.8L1265.6 1217.4L1255.4 1217.4L1252.3 1207.8Z"/>
<path d="M1279.6 1203.6L1287.8 1209.6L1284.7 1219.2L1274.5 1219.2L1271.4 1209.6Z"/>
<path d="M1298.7 1205.3L1306.9 1211.2L1303.8 1220.8L1293.6 1220.8L1290.5 1211.2Z"/>
<path d="M1317.8 1206.7L1326 1212.6L1322.9 1222.2L1312.7 1222.2L1309.6 1212.6Z"/>
<path d="M1336.9 1208.1L1345.1 1214.1L1342 1223.7L1331.8 1223.7L1328.7 1214.1Z"/>
<path d="M1356 1209.6L1364.2 1215.5L1361.1 1225.1L1350.9 1225.1L1347.8 1215.5Z"/>
<path d="M1375.1 1211L1383.3 1216.9L1380.2 1226.6L1370 1226.6L1366.9 1216.9Z"/>
<path d="M1394.2 1212.4L1402.4 1218.4L1399.3 1228L1389.1 1228L1386 1218.4Z"/>
<path d="M1413.3 1213.9L1421.5 1219.8L1418.4 1229.4L1408.2 1229.4L1405.1 1219.8Z"/>
<path d="M1432.4 1214.8L1440.6 1220.7L1437.5 1230.3L1427.3 1230.3L1424.2 1220.7Z"/>
<path d="M1451.5 1215.6L1459.7 1221.6L1456.6 1231.2L1446.4 1231.2L1443.3 1221.6Z"/>
<path d="M1470.6 1216.5L1478.8 1222.4L1475.7 1232L1465.5 1232L1462.4 1222.4Z"/>
<path d="M1489.7 1217.3L1497.9 1223.3L1494.8 1232.9L1484.6 1232.9L1481.5 1223.3Z"/>
<path d="M1508.8 1218.2L1517 1224.1L1513.9 1233.8L1503.7 1233.8L1500.6 1224.1Z"/>
<path d="M1527.9 1219L1536.1 1225L1533 1234.6L1522.8 1234.6L1519.7 1225Z"/>
<path d="M1547 1219.9L1555.2 1225.8L1552.1 1235.5L1541.9 1235.5L1538.8 1225.8Z"/>
</g>
<g fill="#ff0000" opacity="0.75"><circle cx="243.3" cy="319.2" r="1"/><circle cx="247.5" cy="426" r="1"/><circle cx="251.7" cy="418" r="1"/><circle cx="256.5" cy="415" r="1"/><circle cx="261.5" cy="413.5" r="1"/><circle cx="265.3" cy="390.3" r="1"/><circle cx="273" cy="368" r="1"/><circle cx="280.5" cy="349.5" r="1"/><circle cx="288.3" cy="333.3" r="1"/><circle cx="295.8" cy="320.8" r="1"/><circle cx="303.3" cy="312.2" r="1"/><circle cx="310" cy="305.8" r="1"/><circle cx="316.7" cy="300.8" r="1"/><circle cx="323.3" cy="297" r="1"/><circle cx="330" cy="294.7" r="1"/><circle cx="336.7" cy="293" r="1"/><circle cx="343.3" cy="290.8" r="1"/><circle cx="350" cy="288.3" r="1"/><circle cx="356.7" cy="285" r="1"/><circle cx="363.3" cy="281.3" r="1"/><circle cx="370.8" cy="277.5" r="1"/><circle cx="378.3" cy="272.5" r="1"/><circle cx="385.8" cy="267.5" r="1"/><circle cx="393.3" cy="262.5" r="1"/><circle cx="400.8" cy="257.5" r="1"/><circle cx="408.3" cy="252.5" r="1"/><circle cx="415.8" cy="248.3" r="1"/><circle cx="423.3" cy="245" r="1"/><circle cx="431.7" cy="242.5" r="1"/><circle cx="440" cy="241.3" r="1"/><circle cx="450" cy="241.7" r="1"/><circle cx="460.8" cy="245" r="1"/><circle cx="470.8" cy="253.3" r="1"/><circle cx="480.8" cy="265" r="1"/><circle cx="491.7" cy="279.2" r="1"/><circle cx="502" cy="299.7" r="1"/><circle cx="512" cy="326.7" r="1"/><circle cx="521.7" cy="358.3" r="1"/><circle cx="531.7" cy="394.2" r="1"/><circle cx="542" cy="433.3" r="1"/><circle cx="551.5" cy="477" r="1"/><circle cx="561.3" cy="520" r="1"/><circle cx="571.2" cy="563.8" r="1"/><circle cx="581.2" cy="603" r="1"/><circle cx="591.8" cy="643" r="1"/><circle cx="602" cy="678.8" r="1"/><circle cx="613.2" cy="713" r="1"/><circle cx="625" cy="744.2" r="1"/><circle cx="637" cy="774.2" r="1"/><circle cx="649.5" cy="806.8" r="1"/><circle cx="663.2" cy="836.8" r="1"/><circle cx="677" cy="867.5" r="1"/><circle cx="691.8" cy="898" r="1"/><circle cx="706.9" cy="927.6" r="1"/><circle cx="723" cy="953.9" r="1"/><circle cx="739.1" cy="980" r="1"/><circle cx="755.4" cy="1001.1" r="1"/><circle cx="772" cy="1022.5" r="1"/><circle cx="789.8" cy="1041.2" r="1"/><circle cx="807.2" cy="1059.9" r="1"/><circle cx="824.7" cy="1075.4" r="1"/><circle cx="843" cy="1091.6" r="1"/><circle cx="860.9" cy="1104.4" r="1"/><circle cx="879.7" cy="1116.1" r="1"/><circle cx="897.7" cy="1127.3" r="1"/><circle cx="916.6" cy="1137.3" r="1"/><circle cx="935.9" cy="1146.1" r="1"/><circle cx="954.6" cy="1153.6" r="1"/><circle cx="973.3" cy="1161" r="1"/><circle cx="992.8" cy="1167.3" r="1"/><circle cx="1012" cy="1172.3" r="1"/><circle cx="1030.8" cy="1177.3" r="1"/><circle cx="1049.5" cy="1181.8" r="1"/><circle cx="1069.5" cy="1186" r="1"/><circle cx="1088.6" cy="1188.4" r="1"/><circle cx="1107.7" cy="1191.7" r="1"/><circle cx="1126.8" cy="1195" r="1"/><circle cx="1145.9" cy="1198.2" r="1"/><circle cx="1165" cy="1201.5" r="1"/><circle cx="1184.1" cy="1203.3" r="1"/><circle cx="1203.2" cy="1205.1" r="1"/><circle cx="1222.3" cy="1206.9" r="1"/><circle cx="1241.4" cy="1208.7" r="1"/><circle cx="1260.5" cy="1210.4" r="1"/><circle cx="1279.6" cy="1212.2" r="1"/><circle cx="1298.7" cy="1213.9" r="1"/><circle cx="1317.8" cy="1215.3" r="1"/><circle cx="1336.9" cy="1216.7" r="1"/><circle cx="1356" cy="1218.2" r="1"/><circle cx="1375.1" cy="1219.6" r="1"/><circle cx="1394.2" cy="1221" r="1"/><circle cx="1413.3" cy="1222.5" r="1"/><circle cx="1432.4" cy="1223.4" r="1"/><circle cx="1451.5" cy="1224.2" r="1"/><circle cx="1470.6" cy="1225.1" r="1"/><circle cx="1489.7" cy="1225.9" r="1"/><circle cx="1508.8" cy="1226.8" r="1"/><circle cx="1527.9" cy="1227.6" r="1"/><circle cx="1547" cy="1228.5" r="1"/></g>
<g fill="none" stroke="#ffa500" stroke-width="3.2" stroke-linejoin="miter">
<rect x="234.6" y="347.2" width="17.2" height="17.2"/>
<rect x="237" y="530.2" width="17.2" height="17.2"/>
<rect x="241.1" y="576.1" width="17.2" height="17.2"/>
<rect x="246.4" y="621.2" width="17.2" height="17.2"/>
<rect x="250" y="612.2" width="17.2" height="17.2"/>
<rect x="255.4" y="590.8" width="17.2" height="17.2"/>
<rect x="260.4" y="566.6" width="17.2" height="17.2"/>
<rect x="266.2" y="537.6" width="17.2" height="17.2"/>
<rect x="271.2" y="513.2" width="17.2" height="17.2"/>
<rect x="277.4" y="488.4" width="17.2" height="17.2"/>
<rect x="283.5" y="467.7" width="17.2" height="17.2"/>
<rect x="289.9" y="448.1" width="17.2" height="17.2"/>
<rect x="296.4" y="429.7" width="17.2" height="17.2"/>
<rect x="303.9" y="412.2" width="17.2" height="17.2"/>
<rect x="311.4" y="395.6" width="17.2" height="17.2"/>
<rect x="318.9" y="379.7" width="17.2" height="17.2"/>
<rect x="326.4" y="365.6" width="17.2" height="17.2"/>
<rect x="333.9" y="353.1" width="17.2" height="17.2"/>
<rect x="342.2" y="341.4" width="17.2" height="17.2"/>
<rect x="350.6" y="330.6" width="17.2" height="17.2"/>
<rect x="358.9" y="321.4" width="17.2" height="17.2"/>
<rect x="367.2" y="313.1" width="17.2" height="17.2"/>
<rect x="375.6" y="306.4" width="17.2" height="17.2"/>
<rect x="384.7" y="301.4" width="17.2" height="17.2"/>
<rect x="393.1" y="296.4" width="17.2" height="17.2"/>
<rect x="402.2" y="293.1" width="17.2" height="17.2"/>
<rect x="411.4" y="291.4" width="17.2" height="17.2"/>
<rect x="420.6" y="291.4" width="17.2" height="17.2"/>
<rect x="430.6" y="293.1" width="17.2" height="17.2"/>
<rect x="443.1" y="299.7" width="17.2" height="17.2"/>
<rect x="454.7" y="314.7" width="17.2" height="17.2"/>
<rect x="465.6" y="331.4" width="17.2" height="17.2"/>
<rect x="476.4" y="351.4" width="17.2" height="17.2"/>
<rect x="486.7" y="376.4" width="17.2" height="17.2"/>
<rect x="496.4" y="403.9" width="17.2" height="17.2"/>
<rect x="506.6" y="439.1" width="17.2" height="17.2"/>
<rect x="516.1" y="473.7" width="17.2" height="17.2"/>
<rect x="526.2" y="512.8" width="17.2" height="17.2"/>
<rect x="535.9" y="552.6" width="17.2" height="17.2"/>
<rect x="545.9" y="590.6" width="17.2" height="17.2"/>
<rect x="555.9" y="628.1" width="17.2" height="17.2"/>
<rect x="566.4" y="664.4" width="17.2" height="17.2"/>
<rect x="577.6" y="700.6" width="17.2" height="17.2"/>
<rect x="588.9" y="735.6" width="17.2" height="17.2"/>
<rect x="600.1" y="768.1" width="17.2" height="17.2"/>
<rect x="613.4" y="798.9" width="17.2" height="17.2"/>
<rect x="626.4" y="830.9" width="17.2" height="17.2"/>
<rect x="640.8" y="858.4" width="17.2" height="17.2"/>
<rect x="654.6" y="886.4" width="17.2" height="17.2"/>
<rect x="670.7" y="914.4" width="17.2" height="17.2"/>
<rect x="686.5" y="944.4" width="17.2" height="17.2"/>
<rect x="703.3" y="968.6" width="17.2" height="17.2"/>
<rect x="720.9" y="991.4" width="17.2" height="17.2"/>
<rect x="739.2" y="1015.8" width="17.2" height="17.2"/>
<rect x="756.7" y="1037.6" width="17.2" height="17.2"/>
<rect x="776.2" y="1056.3" width="17.2" height="17.2"/>
<rect x="794.4" y="1073.8" width="17.2" height="17.2"/>
<rect x="813.1" y="1088.3" width="17.2" height="17.2"/>
<rect x="832.4" y="1100" width="17.2" height="17.2"/>
<rect x="851.8" y="1111.2" width="17.2" height="17.2"/>
<rect x="871.1" y="1122.5" width="17.2" height="17.2"/>
<rect x="889.8" y="1132.5" width="17.2" height="17.2"/>
<rect x="910.5" y="1142.5" width="17.2" height="17.2"/>
<rect x="931" y="1151.2" width="17.2" height="17.2"/>
<rect x="951.7" y="1157.4" width="17.2" height="17.2"/>
<rect x="972.2" y="1163.7" width="17.2" height="17.2"/>
<rect x="992.2" y="1168.7" width="17.2" height="17.2"/>
<rect x="1013.4" y="1173.7" width="17.2" height="17.2"/>
<rect x="1034.7" y="1176.2" width="17.2" height="17.2"/>
<rect x="1055.9" y="1179.2" width="17.2" height="17.2"/>
<rect x="1076.9" y="1180.5" width="17.2" height="17.2"/>
<rect x="1097.8" y="1184" width="17.2" height="17.2"/>
<rect x="1118.8" y="1187.5" width="17.2" height="17.2"/>
<rect x="1139.7" y="1191" width="17.2" height="17.2"/>
<rect x="1160.7" y="1194.2" width="17.2" height="17.2"/>
<rect x="1181.6" y="1196.1" width="17.2" height="17.2"/>
<rect x="1202.6" y="1198" width="17.2" height="17.2"/>
<rect x="1223.5" y="1199.9" width="17.2" height="17.2"/>
<rect x="1244.5" y="1201.8" width="17.2" height="17.2"/>
<rect x="1265.4" y="1203.7" width="17.2" height="17.2"/>
<rect x="1286.4" y="1205.4" width="17.2" height="17.2"/>
<rect x="1307.3" y="1206.9" width="17.2" height="17.2"/>
<rect x="1328.3" y="1208.4" width="17.2" height="17.2"/>
<rect x="1349.2" y="1209.8" width="17.2" height="17.2"/>
<rect x="1370.2" y="1211.3" width="17.2" height="17.2"/>
<rect x="1391.1" y="1212.7" width="17.2" height="17.2"/>
<rect x="1412.1" y="1214" width="17.2" height="17.2"/>
<rect x="1433" y="1214.9" width="17.2" height="17.2"/>
<rect x="1454" y="1215.8" width="17.2" height="17.2"/>
<rect x="1474.9" y="1216.7" width="17.2" height="17.2"/>
<rect x="1495.9" y="1217.6" width="17.2" height="17.2"/>
<rect x="1516.8" y="1218.5" width="17.2" height="17.2"/>
<rect x="1537.8" y="1219.4" width="17.2" height="17.2"/>
</g>
<g fill="#ffa500" opacity="0.75"><circle cx="243.2" cy="355.8" r="1"/><circle cx="245.6" cy="538.8" r="1"/><circle cx="249.7" cy="584.7" r="1"/><circle cx="255" cy="629.8" r="1"/><circle cx="258.6" cy="620.8" r="1"/><circle cx="264" cy="599.4" r="1"/><circle cx="269" cy="575.2" r="1"/><circle cx="274.8" cy="546.2" r="1"/><circle cx="279.8" cy="521.8" r="1"/><circle cx="286" cy="497" r="1"/><circle cx="292.1" cy="476.3" r="1"/><circle cx="298.5" cy="456.7" r="1"/><circle cx="305" cy="438.3" r="1"/><circle cx="312.5" cy="420.8" r="1"/><circle cx="320" cy="404.2" r="1"/><circle cx="327.5" cy="388.3" r="1"/><circle cx="335" cy="374.2" r="1"/><circle cx="342.5" cy="361.7" r="1"/><circle cx="350.8" cy="350" r="1"/><circle cx="359.2" cy="339.2" r="1"/><circle cx="367.5" cy="330" r="1"/><circle cx="375.8" cy="321.7" r="1"/><circle cx="384.2" cy="315" r="1"/><circle cx="393.3" cy="310" r="1"/><circle cx="401.7" cy="305" r="1"/><circle cx="410.8" cy="301.7" r="1"/><circle cx="420" cy="300" r="1"/><circle cx="429.2" cy="300" r="1"/><circle cx="439.2" cy="301.7" r="1"/><circle cx="451.7" cy="308.3" r="1"/><circle cx="463.3" cy="323.3" r="1"/><circle cx="474.2" cy="340" r="1"/><circle cx="485" cy="360" r="1"/><circle cx="495.3" cy="385" r="1"/><circle cx="505" cy="412.5" r="1"/><circle cx="515.2" cy="447.7" r="1"/><circle cx="524.7" cy="482.3" r="1"/><circle cx="534.8" cy="521.4" r="1"/><circle cx="544.5" cy="561.2" r="1"/><circle cx="554.5" cy="599.2" r="1"/><circle cx="564.5" cy="636.8" r="1"/><circle cx="575" cy="673" r="1"/><circle cx="586.2" cy="709.2" r="1"/><circle cx="597.5" cy="744.2" r="1"/><circle cx="608.8" cy="776.8" r="1"/><circle cx="622" cy="807.5" r="1"/><circle cx="635" cy="839.5" r="1"/><circle cx="649.4" cy="867" r="1"/><circle cx="663.2" cy="895" r="1"/><circle cx="679.3" cy="923" r="1"/><circle cx="695.1" cy="953" r="1"/><circle cx="711.9" cy="977.2" r="1"/><circle cx="729.5" cy="1000" r="1"/><circle cx="747.8" cy="1024.4" r="1"/><circle cx="765.3" cy="1046.2" r="1"/><circle cx="784.8" cy="1064.9" r="1"/><circle cx="803" cy="1082.4" r="1"/><circle cx="821.7" cy="1096.9" r="1"/><circle cx="841" cy="1108.6" r="1"/><circle cx="860.4" cy="1119.8" r="1"/><circle cx="879.7" cy="1131.1" r="1"/><circle cx="898.4" cy="1141.1" r="1"/><circle cx="919.1" cy="1151.1" r="1"/><circle cx="939.6" cy="1159.8" r="1"/><circle cx="960.3" cy="1166" r="1"/><circle cx="980.8" cy="1172.3" r="1"/><circle cx="1000.8" cy="1177.3" r="1"/><circle cx="1022" cy="1182.3" r="1"/><circle cx="1043.3" cy="1184.8" r="1"/><circle cx="1064.5" cy="1187.8" r="1"/><circle cx="1085.5" cy="1189.1" r="1"/><circle cx="1106.4" cy="1192.6" r="1"/><circle cx="1127.4" cy="1196.1" r="1"/><circle cx="1148.3" cy="1199.6" r="1"/><circle cx="1169.3" cy="1202.8" r="1"/><circle cx="1190.2" cy="1204.7" r="1"/><circle cx="1211.2" cy="1206.6" r="1"/><circle cx="1232.1" cy="1208.5" r="1"/><circle cx="1253.1" cy="1210.4" r="1"/><circle cx="1274" cy="1212.3" r="1"/><circle cx="1295" cy="1214" r="1"/><circle cx="1315.9" cy="1215.5" r="1"/><circle cx="1336.9" cy="1217" r="1"/><circle cx="1357.8" cy="1218.4" r="1"/><circle cx="1378.8" cy="1219.9" r="1"/><circle cx="1399.7" cy="1221.3" r="1"/><circle cx="1420.7" cy="1222.6" r="1"/><circle cx="1441.6" cy="1223.5" r="1"/><circle cx="1462.6" cy="1224.4" r="1"/><circle cx="1483.5" cy="1225.3" r="1"/><circle cx="1504.5" cy="1226.2" r="1"/><circle cx="1525.4" cy="1227.1" r="1"/><circle cx="1546.4" cy="1228" r="1"/></g>
<path d="M244.2 1090L249.1 1075L256.9 1053L264.7 1043.5L272.5 997L280.4 951L288.2 977L296 938L303.8 905L311.6 877L319.4 768.5L327.2 836.6L335.1 677L342.9 681L350.7 638.8L358.5 569L366.3 580L374.1 645L382 527L389.8 480.7L397.6 409.4L405.4 456L413.2 466.8L421 394L428.8 347.5L436.7 369.2L444.5 316.5L452.3 325.8L460.1 322.7L467.9 290L475.7 429.6L483.6 418.7L491.4 451.3L499.2 414L507 499.3L514.8 621.7L522.6 618.6L530.4 561.3L538.3 680L546.1 736L553.9 770L561.7 795L569.5 850L577.3 888L585.1 975L593 996L600.8 1013L608.6 1037L616.4 1075L624.2 1081L632 1112L639.9 1110L647.7 1142.5L655.5 1118.7L663.3 1120L671.1 1152.5L678.9 1160L686.7 1167.5L694.6 1158.7L702.4 1162L710.2 1165L718 1178.7L725.8 1177.5L733.6 1183L741.4 1189L749.3 1193.7L757.1 1193.7L764.9 1186L772.7 1207.5L780.5 1217.5L788.3 1218.7L796.2 1203.7L804 1220L811.8 1223.7L819.6 1229L827.4 1235L835.2 1235L843 1240L850.9 1245L858.7 1243.7L866.5 1250L874.3 1253.5L882.1 1254L889.9 1254.5L897.7 1255.5L905.6 1256.5L913.4 1258L921.2 1258.2L929 1258.2L936.8 1258.2L944.6 1258.2L952.5 1258.2L960.3 1258.2L968.1 1258.2L975.9 1258.2L983.7 1258.2L991.5 1258.2L999.3 1258.2" fill="none" stroke="#c080ff" stroke-width="5.5" stroke-linejoin="round"/>
<path d="M330 880H503" fill="none" stroke="#c080ff" stroke-width="2.4"/><path d="M470 870.7L502.5 880L470 889.3" fill="none" stroke="#c080ff" stroke-width="3.2" stroke-linejoin="miter"/>
<rect x="244.2" y="45.5" width="1303.3" height="1213" fill="none" stroke="#000" stroke-width="3.6"/>
<path d="M913 1258.2H1000" stroke="#5a3780" stroke-width="4.4" fill="none"/>
<text x="210.8" y="1277.8" font-size="54" text-anchor="end">0</text>
<text x="210.8" y="1126.2" font-size="54" text-anchor="end">10</text>
<text x="210.8" y="974.5" font-size="54" text-anchor="end">20</text>
<text x="210.8" y="822.9" font-size="54" text-anchor="end">30</text>
<text x="210.8" y="671.3" font-size="54" text-anchor="end">40</text>
<text x="210.8" y="519.7" font-size="54" text-anchor="end">50</text>
<text x="210.8" y="368.1" font-size="54" text-anchor="end">60</text>
<text x="210.8" y="216.4" font-size="54" text-anchor="end">70</text>
<text x="210.8" y="64.8" font-size="54" text-anchor="end">80</text>
<text x="251.5" y="1331.5" font-size="54" text-anchor="middle">0</text>
<text x="512.2" y="1331.5" font-size="54" text-anchor="middle">100</text>
<text x="772.8" y="1331.5" font-size="54" text-anchor="middle">200</text>
<text x="1033.5" y="1331.5" font-size="54" text-anchor="middle">300</text>
<text x="1294.1" y="1331.5" font-size="54" text-anchor="middle">400</text>
<text x="1554.8" y="1331.5" font-size="54" text-anchor="middle">500</text>
<text x="1582.2" y="1282.7" font-size="54" fill="#c080ff">0.0•10<tspan font-size="43.2" dy="-27.5">0</tspan></text>
<text x="1582.2" y="1096" font-size="54" fill="#c080ff">2.0•10<tspan font-size="43.2" dy="-27.5">4</tspan></text>
<text x="1582.2" y="909.3" font-size="54" fill="#c080ff">4.0•10<tspan font-size="43.2" dy="-27.5">4</tspan></text>
<text x="1582.2" y="722.6" font-size="54" fill="#c080ff">6.0•10<tspan font-size="43.2" dy="-27.5">4</tspan></text>
<text x="1582.2" y="535.9" font-size="54" fill="#c080ff">8.0•10<tspan font-size="43.2" dy="-27.5">4</tspan></text>
<text x="1582.2" y="349.2" font-size="54" fill="#c080ff">1.0•10<tspan font-size="43.2" dy="-27.5">5</tspan></text>
<text x="1582.2" y="162.5" font-size="54" fill="#c080ff">1.2•10<tspan font-size="43.2" dy="-27.5">5</tspan></text>
<text x="1300" y="107.5" font-size="54" text-anchor="end">non−implanted</text>
<text x="1300" y="170" font-size="54" text-anchor="end">1•10<tspan font-size="43.2" dy="-27.5">17</tspan><tspan dy="27.5">cm</tspan><tspan font-size="43.2" dy="-27.5">−2</tspan></text>
<text x="1300" y="223.75" font-size="54" text-anchor="end">3•10<tspan font-size="43.2" dy="-27.5">17</tspan><tspan dy="27.5">cm</tspan><tspan font-size="43.2" dy="-27.5">−2</tspan></text>
<text x="1300" y="277.5" font-size="54" text-anchor="end">6•10<tspan font-size="43.2" dy="-27.5">17</tspan><tspan dy="27.5">cm</tspan><tspan font-size="43.2" dy="-27.5">−2</tspan></text>
<text x="1300" y="331.25" font-size="54" text-anchor="end">9•10<tspan font-size="43.2" dy="-27.5">17</tspan><tspan dy="27.5">cm</tspan><tspan font-size="43.2" dy="-27.5">−2</tspan></text>
<text x="1300" y="381.25" font-size="54" text-anchor="end">SRIM 2013</text>
<g fill="none" stroke="#000" stroke-width="3.2" stroke-linejoin="miter">
<circle cx="1408" cy="91.2" r="8.6"/>
</g>
<g fill="#000" opacity="0.75"><circle cx="1408" cy="91.2" r="1"/></g>
<g fill="none" stroke="#00ff00" stroke-width="3.2" stroke-linejoin="miter">
<path d="M1408 155.1L1399.4 141.2H1416.6Z"/>
</g>
<g fill="#00ff00" opacity="0.75"><circle cx="1408" cy="145.5" r="1"/></g>
<g fill="none" stroke="#0000ff" stroke-width="3.2" stroke-linejoin="miter">
<path d="M1408 190.1L1399.4 204.1H1416.6Z"/>
</g>
<g fill="#0000ff" opacity="0.75"><circle cx="1408" cy="199.8" r="1"/></g>
<g fill="none" stroke="#ff0000" stroke-width="3.2" stroke-linejoin="miter">
<path d="M1408 245.4L1416.2 251.3L1413.1 261L1402.9 261L1399.8 251.3Z"/>
</g>
<g fill="#ff0000" opacity="0.75"><circle cx="1408" cy="254" r="1"/></g>
<g fill="none" stroke="#ffa500" stroke-width="3.2" stroke-linejoin="miter">
<rect x="1399.4" y="299.6" width="17.2" height="17.2"/>
</g>
<g fill="#ffa500" opacity="0.75"><circle cx="1408" cy="308.2" r="1"/></g>
<path d="M1334 362.5H1482.5" stroke="#c080ff" stroke-width="5.5"/>
<text x="897.5" y="1415.25" font-size="63" font-weight="bold" text-anchor="middle">Depth (nm)</text>
<text transform="translate(70 654) rotate(-90)" font-size="63" font-weight="bold" text-anchor="middle">Nitrogen concentration (at%)</text>
<text transform="translate(1927.5 662) rotate(-90)" font-size="63" font-weight="bold" text-anchor="middle" fill="#c080ff">Relative nitrogen concentration</text>
<text transform="translate(2043.4 1025.4) rotate(-90)" font-size="63" font-weight="bold" fill="#c080ff">(atoms cm<tspan font-size="50.4" font-weight="normal" stroke="#c080ff" stroke-width="0.9" dy="-31">−3</tspan><tspan dy="31">/atoms cm</tspan><tspan font-size="50.4" font-weight="normal" stroke="#c080ff" stroke-width="0.9" dy="-31">−2</tspan><tspan dy="31">)</tspan></text>
</svg>
</body></html>
